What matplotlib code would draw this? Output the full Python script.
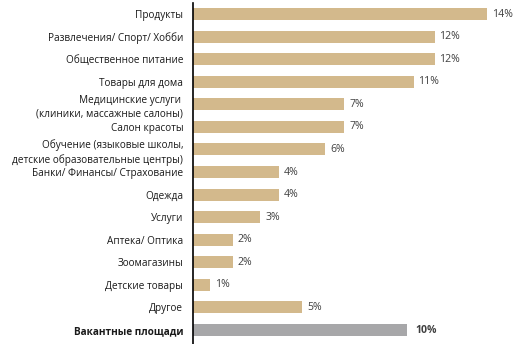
import matplotlib
matplotlib.use("Agg")
import matplotlib.pyplot as plt

categories = [
    'Продукты',
    'Развлечения/ Спорт/ Хобби',
    'Общественное питание',
    'Товары для дома',
    'Медицинские услуги \n(клиники, массажные салоны)',
    'Салон красоты',
    'Обучение (языковые школы,\nдетские образовательные центры)',
    'Банки/ Финансы/ Страхование',
    'Одежда',
    'Услуги',
    'Аптека/ Оптика',
    'Зоомагазины',
    'Детские товары',
    'Другое',
    'Вакантные площади',
]
values = [14.0, 11.5, 11.5, 10.5, 7.2, 7.2, 6.3, 4.1, 4.1, 3.2, 1.9, 1.9, 0.8, 5.2, 10.2]
value_labels = ['14%', '12%', '12%', '11%', '7%', '7%', '6%', '4%', '4%', '3%',
                '2%', '2%', '1%', '5%', '10%']

TAN = '#D3B98C'
GREY = '#A7A7A9'

plt.rcParams['font.family'] = ['Open Sans', 'DejaVu Sans']

fig = plt.figure(figsize=(5.27, 3.44), dpi=100)
ax = fig.add_axes([193 / 527, 0, 327 / 527, 341 / 344])

y = list(range(len(categories)))
colors = [TAN] * (len(categories) - 1) + [GREY]
ax.barh(y, values, height=0.53, color=colors, zorder=2)

for i, (v, lab) in enumerate(zip(values, value_labels)):
    last = i == len(values) - 1
    ax.annotate(lab, (v, i), xytext=(6 if last else 3.5, 0), textcoords='offset points',
                va='center', ha='left', fontsize=7.6, color='#404040',
                fontweight='bold' if last else 'normal')

ax.set_yticks(y)
ax.set_yticklabels(categories, fontsize=7.2, color='#1a1a1a', linespacing=1.35)
ax.get_yticklabels()[-1].set_fontweight('bold')
ax.tick_params(axis='y', length=0, pad=7)
ax.set_xticks([])
ax.set_xlim(0, 327 / 21)
ax.set_ylim(14.62, -0.49)

for s in ['top', 'right', 'bottom']:
    ax.spines[s].set_visible(False)
ax.spines['left'].set_linewidth(1.2)
ax.spines['left'].set_color('black')

fig.savefig('out.png', dpi=100)
